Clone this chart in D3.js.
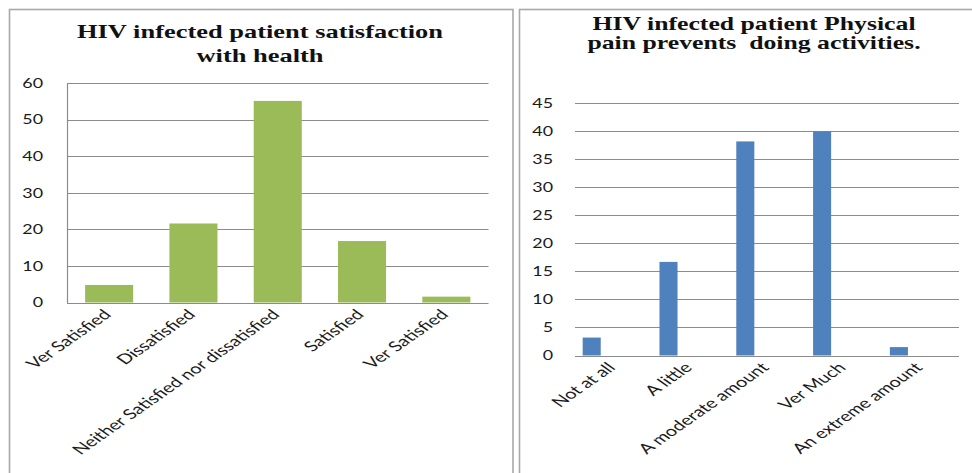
<!DOCTYPE html>
<html>
<head>
<meta charset="utf-8">
<script src="https://cdn.jsdelivr.net/npm/d3@7"></script>
<style>
  html, body { margin: 0; padding: 0; background: #fff; }
  svg { display: block; }
  text { white-space: pre; }
</style>
</head>
<body>
<svg id="chart" width="972" height="473"></svg>
<script>
// Survey results: satisfaction with health
const satisfactionCategories = ["Ver Satisfied", "Dissatisfied", "Neither Satisfied nor dissatisfied", "Satisfied", "Ver Satisfied "];
const satisfactionValues = [4.8, 21.6, 55.1, 16.8, 1.6];
const satisfactionTicks = [0, 10, 20, 30, 40, 50, 60];
const satisfactionTitle = ["HIV infected patient satisfaction", "with health"];

// Survey results: physical pain preventing activities
const painCategories = ["Not at all", "A little", "A moderate amount", "Ver Much", "An extreme amount"];
const painValues = [3.2, 16.7, 38.2, 40, 1.5];
const painTicks = [0, 5, 10, 15, 20, 25, 30, 35, 40, 45];
const painTitle = ["HIV infected patient Physical", "pain prevents  doing activities."];

const svg = d3.select("#chart");
const SX = 1.43;                 // horizontal text stretch used throughout
const FRAME = "#a8a8a8";
const GRID = "#8c8c8c";
const LABEL_FONT = "Lato, 'Open Sans', sans-serif";
const TITLE_FONT = "'Liberation Serif', 'Times New Roman', serif";

// panel frames
svg.append("rect").attr("x", 9.5).attr("y", 9.5).attr("width", 503.5).attr("height", 490)
  .attr("fill", "none").attr("stroke", FRAME).attr("stroke-width", 1.6);
svg.append("rect").attr("x", 519.5).attr("y", 9.5).attr("width", 470).attr("height", 490)
  .attr("fill", "none").attr("stroke", FRAME).attr("stroke-width", 1.6);

function stretched(sel, x, y) {
  return sel.attr("x", 0).attr("y", 0)
    .attr("transform", `translate(${x},${y}) scale(${SX},1)`);
}

function drawPanel(cfg) {
  const g = svg.append("g");
  const x = d3.scaleBand().domain(cfg.categories).range([cfg.left, cfg.right])
    .paddingInner(cfg.padInner).paddingOuter(cfg.padOuter);
  const y = d3.scaleLinear().domain([0, d3.max(cfg.ticks)]).range([cfg.bottom, cfg.top]);

  // title
  cfg.title.forEach((line, i) => {
    stretched(g.append("text"), cfg.titleX, cfg.titleY + i * cfg.titleLead)
      .attr("text-anchor", "middle")
      .attr("font-family", TITLE_FONT).attr("font-weight", "bold")
      .attr("font-size", cfg.titleSize).attr("fill", "#111")
      .text(line);
  });

  // horizontal gridlines
  g.append("g").selectAll("line").data(cfg.ticks).join("line")
    .attr("x1", cfg.left).attr("x2", cfg.right)
    .attr("y1", d => Math.round(y(d)) + 0.5).attr("y2", d => Math.round(y(d)) + 0.5)
    .attr("stroke", GRID).attr("stroke-width", 1.2);

  // value axis
  const yAxis = g.append("g").attr("transform", `translate(${cfg.left},0)`)
    .call(d3.axisLeft(y).tickValues(cfg.ticks).tickSize(0).tickFormat(d3.format("d")));
  yAxis.select(".domain").attr("stroke", cfg.axisLine ? GRID : "none").attr("stroke-width", 1.2);
  yAxis.selectAll(".tick text")
    .attr("x", 0).attr("dy", "0.35em")
    .attr("transform", `translate(${-cfg.labelGap},0) scale(${SX},1)`)
    .attr("text-anchor", "end")
    .attr("font-family", LABEL_FONT).attr("font-size", cfg.tickSize).attr("fill", "#1a1a1a");

  // bars
  const bw = x.bandwidth();
  g.append("g").selectAll("rect").data(cfg.values).join("rect")
    .attr("x", (d, i) => x(cfg.categories[i]) + bw * cfg.barOffset)
    .attr("width", bw * cfg.barWidth)
    .attr("y", d => y(d))
    .attr("height", d => y(0) - y(d))
    .attr("fill", cfg.color);

  // category labels, rotated
  g.append("g").selectAll("text").data(cfg.categories).join("text")
    .attr("x", 0).attr("y", 0)
    .attr("transform", d => `translate(${x(d) + bw / 2 + cfg.catDx},${cfg.bottom + cfg.catDy}) scale(${SX},1) rotate(-45)`)
    .attr("text-anchor", "end")
    .attr("font-family", LABEL_FONT).attr("font-size", cfg.catSize).attr("fill", "#1a1a1a")
    .text(d => d.trim());
}

drawPanel({
  categories: satisfactionCategories, values: satisfactionValues, ticks: satisfactionTicks,
  title: satisfactionTitle, titleX: 260, titleY: 38, titleLead: 23.5, titleSize: 18.5,
  left: 67, right: 488.5, top: 83, bottom: 302.5,
  padInner: 0.43, padOuter: 0.215, barOffset: 0, barWidth: 1,
  color: "#9bbb59", axisLine: true, labelGap: 24, tickSize: 12.5,
  catDx: 3, catDy: 13, catSize: 14
});

drawPanel({
  categories: painCategories, values: painValues, ticks: painTicks,
  title: painTitle, titleX: 754, titleY: 30, titleLead: 18.5, titleSize: 18,
  left: 575, right: 959, top: 103.3, bottom: 355.5,
  padInner: 0, padOuter: 0, barOffset: 0.1, barWidth: 0.235,
  color: "#4f81bd", axisLine: false, labelGap: 22, tickSize: 12.5,
  catDx: 3, catDy: 13, catSize: 14
});
</script>
</body>
</html>
